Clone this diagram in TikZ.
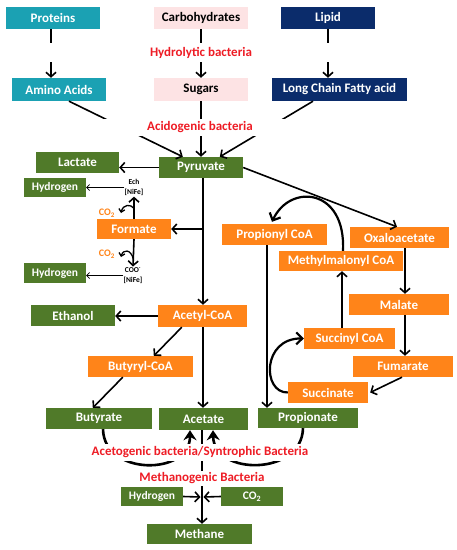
\documentclass[tikz,border=0pt]{standalone}
\usepackage{fontspec}
\setmainfont{Carlito}
\usetikzlibrary{arrows.meta,calc}
\definecolor{teal1}{HTML}{1BA1B3}
\definecolor{navy1}{HTML}{0B2C6B}
\definecolor{pink1}{HTML}{FDE3E4}
\definecolor{green1}{HTML}{507A29}
\definecolor{orange1}{HTML}{FF8419}
\definecolor{red1}{HTML}{EE1C25}
\begin{document}
\begin{tikzpicture}[x=1pt,y=-1pt,
  box/.style={rectangle, inner sep=0pt, font=\fontsize{13}{14}\selectfont\bfseries, text=white},
  wh/.style 2 args={minimum width=#1pt, minimum height=#2pt},
  tealbox/.style={box, fill=teal1},
  navybox/.style={box, fill=navy1},
  pinkbox/.style={box, fill=pink1, text=black},
  greenbox/.style={box, fill=green1},
  smallgreen/.style={box, fill=green1, font=\fontsize{11.5}{12}\selectfont\bfseries},
  orangebox/.style={box, fill=orange1},
  redlabel/.style={fill=white, inner sep=0pt, text=red1, font=\fontsize{13}{14}\selectfont\bfseries},
  tinylabel/.style={inner sep=0pt, align=center, font=\fontsize{7.5}{9.5}\selectfont\bfseries},
  colabel/.style={inner sep=0pt, text=orange1, font=\fontsize{10}{10}\selectfont\bfseries},
  arr/.style={line width=1.6pt, -{Straight Barb[length=4.5pt,width=10pt]}},
  plain/.style={line width=1.6pt},
  thinarr/.style={line width=0.7pt, -{Straight Barb[length=3pt,width=6pt]}},
  bigarr/.style={line width=2.6pt, -{Stealth[length=10pt,width=13pt]}},
  curvearr/.style={line width=2.2pt, -{Straight Barb[length=6pt,width=12pt]}}
]
\useasboundingbox (0,0) rectangle (457,550);
\fill[white] (0,0) rectangle (457,550);

% top row
\node[tealbox, wh={94}{22}] (proteins) at (53,18) {Proteins};
\node[pinkbox, wh={94}{22}] (carb) at (201,18) {Carbohydrates};
\node[navybox, wh={94}{22}] (lipid) at (328,18) {Lipid};
\node[tealbox, wh={94}{23}] (amino) at (59,89.5) {Amino Acids};
\node[pinkbox, wh={94}{23}] (sugars) at (201,89.5) {Sugars};
\node[navybox, wh={135}{23}] (lcfa) at (339.5,89.5) {Long Chain Fatty acid};

% green and orange boxes
\node[greenbox, wh={84}{21}] (pyr) at (201,167.5) {Pyruvate};
\node[greenbox, wh={83}{21}] (lactate) at (77.5,162.5) {Lactate};
\node[smallgreen, wh={62}{19}] (h1) at (55,187.5) {Hydrogen};
\node[orangebox, wh={74}{20}] (formate) at (134,229) {Formate};
\node[smallgreen, wh={62}{20}] (h2) at (55,273) {Hydrogen};
\node[greenbox, wh={84}{21}] (ethanol) at (73,315.5) {Ethanol};
\node[orangebox, wh={89}{22}] (acetyl) at (202.5,316) {Acetyl-CoA};
\node[orangebox, wh={105}{21}] (butyryl) at (140.5,366.5) {Butyryl-CoA};
\node[greenbox, wh={106}{21}] (butyrate) at (99,418.5) {Butyrate};
\node[greenbox, wh={89}{22}] (acetate) at (203.5,419) {Acetate};
\node[greenbox, wh={100}{20}] (propionate) at (308,418) {Propionate};
\node[orangebox, wh={105}{21}] (propcoa) at (274.5,234.5) {Propionyl CoA};
\node[orangebox, wh={99}{21}] (oxalo) at (399.5,237.5) {Oxaloacetate};
\node[orangebox, wh={124}{20}] (mmcoa) at (341,261) {Methylmalonyl CoA};
\node[orangebox, wh={100}{21}] (malate) at (399,304.5) {Malate};
\node[orangebox, wh={91}{21}] (succcoa) at (349.5,338.5) {Succinyl CoA};
\node[orangebox, wh={100}{21}] (fumarate) at (403,366.5) {Fumarate};
\node[orangebox, wh={80}{21}] (succinate) at (328,392.5) {Succinate};
\node[smallgreen, wh={62}{19}] (h3) at (152,496.5) {Hydrogen};
\node[smallgreen, wh={62}{19}] (co2box) at (252,496.5) {CO\textsubscript{2}};
\node[greenbox, wh={105}{20}] (methane) at (199.5,534) {Methane};

% small labels
\node[tinylabel] (ech) at (134,187.5) {Ech\\{[NiFe]}};
\node[tinylabel] (coo) at (133,275.5) {COO\textsuperscript{-}\\{[NiFe]}};
\node[colabel] (co2a) at (107,213) {CO\textsubscript{2}};
\node[colabel] (co2b) at (107,254) {CO\textsubscript{2}};

% top arrows
\draw[arr] (proteins.south -| 51,0) -- (amino.north -| 51,0);
\draw[arr] (carb.south) -- (sugars.north);
\draw[arr] (lipid.south) -- (lipid.south |- lcfa.north);
\draw[arr] ([xshift=10pt]amino.south) -- ([xshift=24pt]pyr.north west);
\draw[arr] (sugars.south) -- (pyr.north);
\draw[arr] ([xshift=-26.5pt]lcfa.south) -- ([xshift=61pt]pyr.north west);
\node[redlabel, minimum width=330pt, minimum height=19pt] (hydro) at (201,52.5) {Hydrolytic bacteria};
\node[redlabel, minimum width=240pt, minimum height=17pt] (acido) at (200,127) {Acidogenic bacteria};

% pyruvate branches
\draw[arr] (pyr.west) -- (pyr.west -| lactate.east);
\coordinate (pv) at ([xshift=2pt]pyr.south);
\draw[arr] (pv) -- (pv |- acetyl.north);
\coordinate (fj) at (pv |- formate.east);
\draw[arr] (fj) -- (formate.east);
\draw[arr] (pyr.east) -- ([xshift=-2.5pt]oxalo.north);

% formate details
\draw[arr] (formate.north) -- ([yshift=-1pt]ech.south);
\draw[arr] (formate.south) -- ([yshift=1pt]coo.north);
\coordinate (fu) at ($(formate.north)!0.45!(ech.south)$);
\coordinate (fd) at ($(formate.south)!0.7!(coo.north)$);
\draw[line width=1.3pt, -{Straight Barb[length=3pt,width=6pt]}] (fu) .. controls (131,204) and (123,204) .. (121,213);
\draw[line width=1.3pt, -{Straight Barb[length=3pt,width=6pt]}] (fd) .. controls (131,249) and (123,249) .. (121,257);
\draw[thinarr] (ech.west) -- (ech.west -| h1.east);
\draw[thinarr] (coo.west) -- (coo.west -| h2.east);

% acetyl branches
\draw[arr] (acetyl.west) -- (acetyl.west -| ethanol.east);
\draw[arr] ([xshift=24pt]acetyl.south west) -- ([xshift=66pt]butyryl.north west);
\draw[arr] ([xshift=35pt]butyryl.south west) -- ([xshift=47pt]butyrate.north west);
\draw[arr] (pv |- acetyl.south) -- (pv |- acetate.north);

% right cycle
\draw[arr] ([xshift=-7.5pt]propcoa.south) -- ([xshift=-7.5pt]propcoa.south |- propionate.north);
\draw[arr] ([xshift=5.5pt]oxalo.south) -- ([xshift=5.5pt]oxalo.south |- malate.north);
\draw[arr] ([xshift=6pt]malate.south) -- ([xshift=6pt]malate.south |- fumarate.north);
\draw[arr] ([xshift=-1pt]fumarate.south) -- ([xshift=2pt]succinate.east);
\draw[arr] ([xshift=-7.5pt]succcoa.north) -- ([xshift=-7.5pt]succcoa.north |- mmcoa.south);
\draw[curvearr] ([xshift=2pt]mmcoa.north) .. controls (346,188) and (290,183) .. ([xshift=-2.5pt,yshift=2pt]propcoa.north);
\draw[curvearr] (succinate.west) .. controls (262,393) and (262,338) .. (succcoa.west);

% bottom
\coordinate (cross) at (202,497);
\draw[plain] (acetate.south -| cross) -- (cross);
\draw[bigarr] ([xshift=4pt]butyrate.south) .. controls (104,476) and (190,476) .. ([xshift=-13.5pt]acetate.south);
\draw[bigarr] ([xshift=-5pt]propionate.south) .. controls (302,476) and (214,476) .. ([xshift=9.5pt]acetate.south);
\node[redlabel, inner xsep=2pt, minimum height=17pt] (aceto) at (200,452.5) {Acetogenic bacteria/Syntrophic Bacteria};
\node[redlabel, inner xsep=2pt, minimum height=15pt] (metha) at (202,478.5) {Methanogenic Bacteria};
\draw[arr] (h3.east) -- ([xshift=-1.5pt]cross);
\draw[arr] (co2box.west) -- ([xshift=1.5pt]cross);
\draw[arr] (cross) -- (cross |- methane.north);
\end{tikzpicture}
\end{document}
